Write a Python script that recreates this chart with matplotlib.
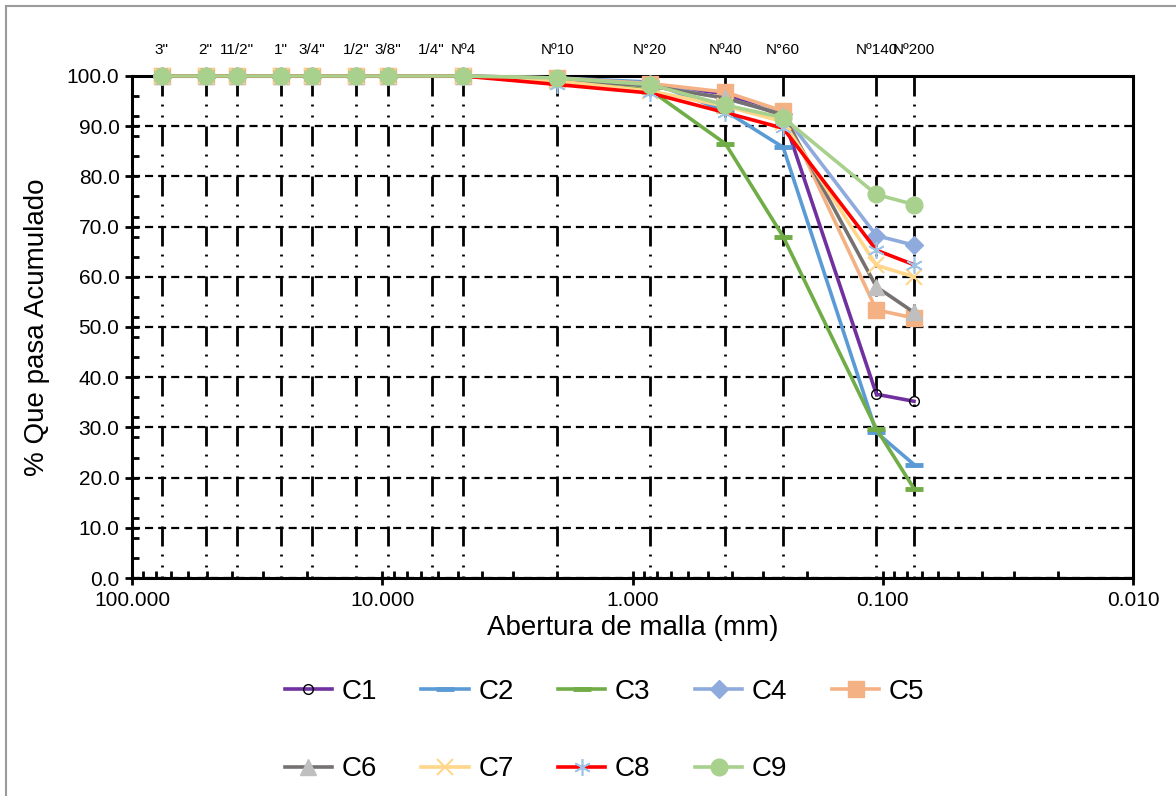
import matplotlib.pyplot as plt
import matplotlib.patches as patches
from matplotlib.ticker import FixedLocator, FuncFormatter, MultipleLocator, LogLocator, NullFormatter
import matplotlib.transforms as mtransforms

plt.rcParams['font.family'] = ['Liberation Sans', 'DejaVu Sans']
plt.rcParams['lines.scale_dashes'] = False

# sieve openings (mm) and names
sieve_mm = [76.2, 50.8, 38.1, 25.4, 19.05, 12.7, 9.525, 6.35, 4.75, 2.0, 0.85, 0.425, 0.25, 0.106, 0.075]
sieve_names = ['3"', '2"', '11/2"', '1"', '3/4"', '1/2"', '3/8"', '1/4"', 'Nº4',
               'Nº10', 'N°20', 'Nº40', 'N°60', 'Nº140', 'Nº200']

# sieves with data (no 1/4")
data_mm = [76.2, 50.8, 38.1, 25.4, 19.05, 12.7, 9.525, 4.75, 2.0, 0.85, 0.425, 0.25, 0.106, 0.075]

C1 = [100, 100, 100, 100, 100, 100, 100, 100, 99.3, 98.2, 96.5, 92.0, 36.6, 35.2]
C2 = [100, 100, 100, 100, 100, 100, 100, 100, 99.6, 98.8, 93.0, 85.8, 29.0, 22.6]
C3 = [100, 100, 100, 100, 100, 100, 100, 100, 99.0, 97.2, 86.5, 68.0, 29.7, 17.8]
C4 = [100, 100, 100, 100, 100, 100, 100, 100, 99.5, 98.4, 95.5, 92.5, 68.2, 66.3]
C5 = [100, 100, 100, 100, 100, 100, 100, 100, 99.6, 98.5, 96.8, 93.0, 53.4, 51.8]
C6 = [100, 100, 100, 100, 100, 100, 100, 100, 99.4, 98.0, 95.6, 92.3, 58.0, 52.9]
C7 = [100, 100, 100, 100, 100, 100, 100, 100, 99.0, 97.0, 94.0, 90.9, 62.3, 60.0]
C8 = [100, 100, 100, 100, 100, 100, 100, 100, 98.3, 96.6, 92.7, 89.6, 65.3, 62.4]
C9 = [100, 100, 100, 100, 100, 100, 100, 100, 99.6, 98.3, 94.2, 91.7, 76.4, 74.4]

fig = plt.figure(figsize=(11.76, 7.96), dpi=100)
ax = fig.add_axes([132/1176, 1-578/796, (1133-132)/1176, (578-76)/796])

# outer chart border
fig.patches.append(patches.Rectangle((6/1176, -0.1), 1.2, 1.1 - 6/796, transform=fig.transFigure,
                                     fill=False, edgecolor='#9a9a9a', lw=1.5, zorder=0))

# vertical dash-dot-dot lines at each sieve
for s in sieve_mm:
    ax.plot([s, s], [100, 0], color='black', lw=2.0,
            linestyle=(0, (14.4, 5.8, 1.4, 6.5, 1.4, 6.5)), zorder=1)

ax.yaxis.grid(True, color='black', lw=1.6, linestyle=(0, (5.8, 3.6)), zorder=0.5)
ax.set_axisbelow(True)

def draw(y, label, color, marker, ms, mfc=None, mec=None, mew=1.0):
    ax.plot(data_mm, y, color=color, lw=2.6, marker=marker, ms=ms,
            mfc=mfc if mfc else color, mec=mec if mec else color, mew=mew,
            label=label, clip_on=False, zorder=3)

draw(C1, 'C1', '#7030A0', 'o', 7, mfc='none', mec='black', mew=1.0)
draw(C2, 'C2', '#5B9BD5', '_', 13, mew=3.5)
draw(C3, 'C3', '#70AD47', '_', 13, mew=3.5)
draw(C4, 'C4', '#8FAADC', 'D', 9)
draw(C5, 'C5', '#F4B183', 's', 12)
draw(C6, 'C6', '#767171', '^', 12, mfc='#BFBFBF', mec='#BFBFBF')
draw(C7, 'C7', '#FFD68A', 'x', 11, mew=1.5)
draw(C8, 'C8', '#FF0000', (6, 2, 0), 12, mec='#9DC3E6', mew=1.2)
draw(C9, 'C9', '#A9D18E', 'o', 12)

ax.set_xscale('log')
ax.set_xlim(100, 0.01)
ax.set_ylim(0, 100)

ax.xaxis.set_major_locator(FixedLocator([100, 10, 1, 0.1, 0.01]))
ax.xaxis.set_major_formatter(FuncFormatter(lambda v, p: '%.3f' % v))
ax.xaxis.set_minor_locator(LogLocator(base=10, subs=range(2, 10)))
ax.xaxis.set_minor_formatter(NullFormatter())
ax.yaxis.set_major_locator(MultipleLocator(10))
ax.yaxis.set_minor_locator(MultipleLocator(4))
ax.yaxis.set_major_formatter(FuncFormatter(lambda v, p: '%.1f' % v))

ax.tick_params(which='major', direction='inout', length=10, width=2, labelsize=15, pad=4)
ax.tick_params(which='minor', direction='in', length=5, width=2)
ax.tick_params(top=False, right=False, which='both')

for sp in ax.spines.values():
    sp.set_linewidth(2.2)
    sp.set_color('black')

# sieve labels on top
trans = mtransforms.blended_transform_factory(ax.transData, ax.transAxes)
for s, n in zip(sieve_mm, sieve_names):
    ax.text(s, 1.052, n, transform=trans, ha='center', va='center', fontsize=11)

ax.set_xlabel('Abertura de malla (mm)', fontsize=20, labelpad=4)
ax.set_ylabel('% Que pasa Acumulado', fontsize=20, labelpad=12)

h, l = ax.get_legend_handles_labels()
order = [0, 5, 1, 6, 2, 7, 3, 8, 4]
fig.legend([h[i] for i in order], [l[i] for i in order], ncol=5, loc='center',
           bbox_to_anchor=(0.514, 0.082), frameon=False, fontsize=20,
           handlelength=1.7, handletextpad=0.35, columnspacing=1.6,
           labelspacing=1.85, numpoints=1)

fig.savefig('out.png', dpi=100)
